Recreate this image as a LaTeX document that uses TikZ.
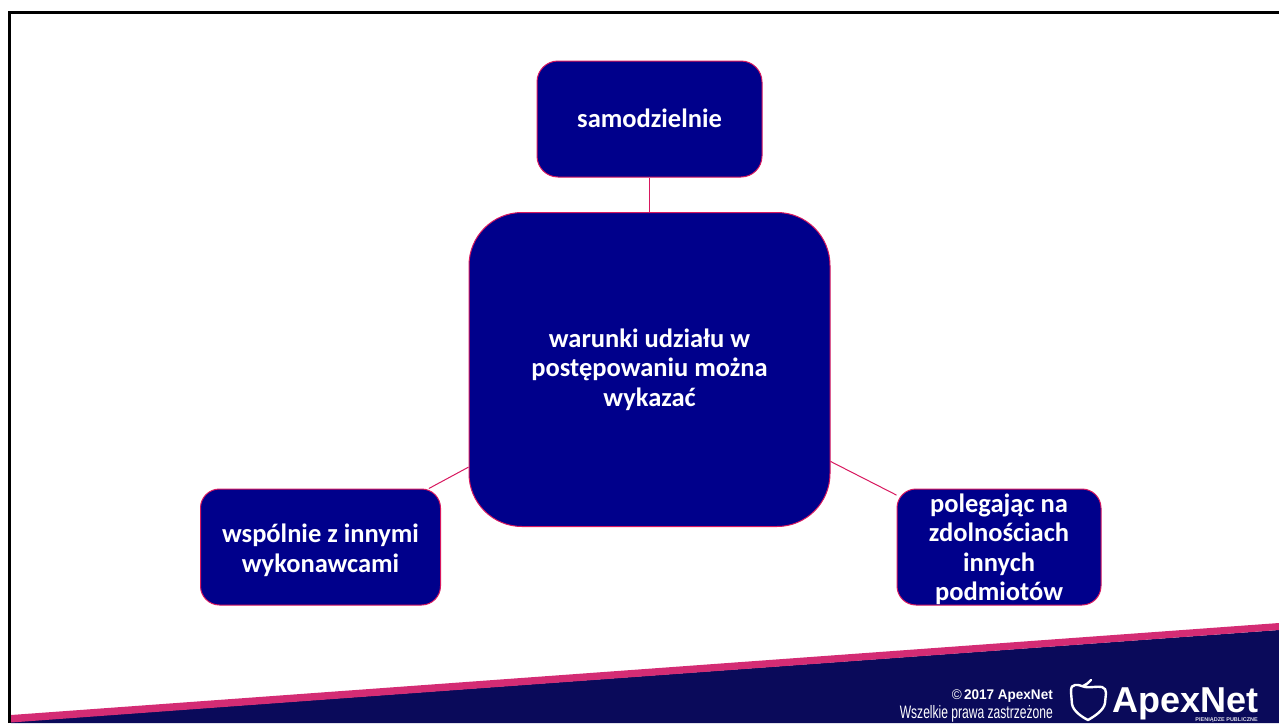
\documentclass[tikz,border=0pt]{standalone}
\usepackage{graphicx}
\usepackage{fontspec}
\setmainfont{Carlito}
\newfontfamily\narrowf{Liberation Sans}
\usetikzlibrary{backgrounds}
\definecolor{boxblue}{HTML}{00008B}
\definecolor{rim}{HTML}{D8185F}
\definecolor{bandnavy}{HTML}{0A0A5A}
\definecolor{bandpink}{HTML}{D42C74}
\tikzset{
 x=1pt,y=-1pt,
 box/.style={draw=rim,line width=1pt,fill=boxblue,text=white,align=center,inner sep=0pt,
   font=\fontsize{26.5}{29.3}\selectfont\bfseries},
 link/.style={draw=rim,line width=1pt},
 small/.style={text=white,inner sep=0pt,anchor=base east},
}
\begin{document}
\begin{tikzpicture}
\useasboundingbox (0,0) rectangle (1279,723);
% boxes
\node[box,rounded corners=21pt,minimum width=225pt,minimum height=116pt] (self) at (649.5,119) {\rule[-2pt]{0pt}{0pt}samodzielnie};
\node[box,rounded corners=53pt,minimum width=361pt,minimum height=314pt] (main) at (649.5,369.5) {warunki udziału w\\postępowaniu można\\wykazać};
\node[box,rounded corners=19pt,minimum width=240pt,minimum height=116pt] (joint) at (320.5,547) {\rule{0pt}{25pt}wspólnie z innymi\\wykonawcami};
\node[box,rounded corners=19pt,minimum width=204pt,minimum height=116pt] (rely) at (999,547) {\rule{0pt}{21pt}polegając na\\zdolnościach\\innych\\\rule[-2pt]{0pt}{0pt}\smash{podmiotów}};
\begin{scope}[on background layer]
\fill[white] (0,0) rectangle (1279,723);
% band
\fill[bandnavy] (11,723) -- (11,722) -- (1279,630) -- (1279,723) -- cycle;
\fill[bandpink] (11,715) -- (1279,623) -- (1279,630) -- (11,722.5) -- cycle;
% frame
\draw[line width=3.5pt] (9.5,723) -- (9.5,12.5) -- (1279,12.5);
\draw[link] (main) -- (self);
\draw[link] (main) -- (joint);
\draw[link] (main) -- (rely);
\end{scope}
% footer
\node[small,font=\narrowf\fontsize{14}{16}\selectfont] (copy) at (1053,699) {\resizebox{101pt}{\height}{©\,\textbf{2017 ApexNet}}};
\node[small,font=\narrowf\fontsize{18}{20}\selectfont] (rights) at (1053,718.5) {\resizebox{153pt}{\height}{Wszelkie prawa zastrzeżone}};
\draw[white,line width=2.4pt,line cap=round,line join=round]
  (1083,686) .. controls (1086,685) and (1088,683) .. (1091,680)
  (1071,692) .. controls (1071,687) and (1072,685) .. (1075,685)
  .. controls (1079,684.5) and (1081,686) .. (1085,687)
  .. controls (1090,688) and (1097,686) .. (1102,687)
  .. controls (1105,688) and (1106,690) .. (1106,693)
  -- (1105,703) .. controls (1104,710) and (1095,716) .. (1088,720)
  .. controls (1082,717) and (1073,711) .. (1072,704) -- cycle;
\node[text=white,inner sep=0pt,anchor=base west,font=\narrowf\bfseries\fontsize{36}{36}\selectfont] (logo) at (1112,712) {ApexNet};
\node[text=white!85!bandnavy,inner sep=0pt,anchor=base east,font=\narrowf\bfseries\fontsize{5.5}{6}\selectfont] (tag) at (1258,721) {PIENIĄDZE PUBLICZNE};
\end{tikzpicture}
\end{document}
